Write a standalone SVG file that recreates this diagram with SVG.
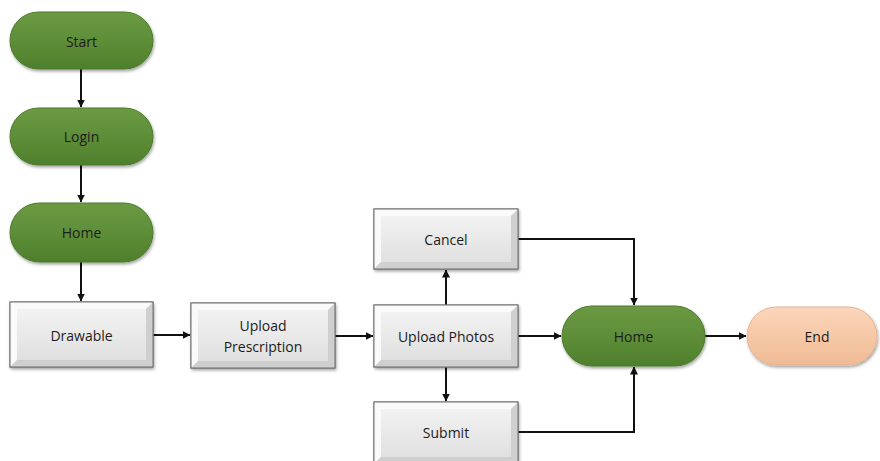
<svg xmlns="http://www.w3.org/2000/svg" width="880" height="461" viewBox="0 0 880 461">
  <defs>
    <linearGradient id="greenFill" x1="0" y1="0" x2="0" y2="1">
      <stop offset="0" stop-color="#6b9a44"/>
      <stop offset="0.5" stop-color="#5e8e38"/>
      <stop offset="1" stop-color="#4f7f2c"/>
    </linearGradient>
    <linearGradient id="peachFill" x1="0" y1="0" x2="0" y2="1">
      <stop offset="0" stop-color="#fbd6bb"/>
      <stop offset="0.5" stop-color="#f6c8a6"/>
      <stop offset="1" stop-color="#efbb96"/>
    </linearGradient>
    <linearGradient id="boxFill" x1="0" y1="0" x2="0" y2="1">
      <stop offset="0" stop-color="#f2f2f2"/>
      <stop offset="1" stop-color="#e0e0e0"/>
    </linearGradient>
    <filter id="shadow" x="-10%" y="-20%" width="120%" height="150%">
      <feDropShadow dx="1" dy="2" stdDeviation="1.6" flood-color="#000" flood-opacity="0.35"/>
    </filter>
    <marker id="arrow" viewBox="0 0 8 8" refX="7.5" refY="4" markerWidth="4" markerHeight="4" orient="auto" markerUnits="strokeWidth">
      <path d="M0,0 L8,4 L0,8 Z" fill="#111"/>
    </marker>
  </defs>
  <style>
    .pill { fill: url(#greenFill); stroke: #4c7a2b; stroke-width: 1; filter: url(#shadow); }
    .endpill { fill: url(#peachFill); stroke: #e8b48e; stroke-width: 1; filter: url(#shadow); }
    .box { fill: url(#boxFill); stroke: #6f6f6f; stroke-width: 1; filter: url(#shadow); }
    .bevel { fill: #fafafa; }
    .bevelDark { fill: #cfcfcf; }
    .label { font-family: "Open Sans", "Liberation Sans", sans-serif; font-size: 14px; fill: #1c1c1c; text-anchor: middle; dominant-baseline: central; }
    .wire { fill: none; stroke: #111; stroke-width: 2; marker-end: url(#arrow); }
  </style>

  <rect width="880" height="461" fill="#ffffff"/>

  <!-- connectors -->
  <g id="connectors">
    <path class="wire" d="M81,69 V107"/>
    <path class="wire" d="M81,165 V202"/>
    <path class="wire" d="M81,262 V301"/>
    <path class="wire" d="M153,335 H190"/>
    <path class="wire" d="M335,336 H373"/>
    <path class="wire" d="M446,305 V270"/>
    <path class="wire" d="M446,367 V401"/>
    <path class="wire" d="M518,336 H561"/>
    <path class="wire" d="M518,239 H634 V305"/>
    <path class="wire" d="M518,432 H634 V367"/>
    <path class="wire" d="M705,336 H746"/>
  </g>

  <!-- terminals -->
  <g id="start">
    <rect class="pill" x="10" y="12" width="143" height="57" rx="28.5"/>
    <text class="label" x="81.5" y="41">Start</text>
  </g>
  <g id="login">
    <rect class="pill" x="10" y="108" width="143" height="57" rx="28.5"/>
    <text class="label" x="81.5" y="136">Login</text>
  </g>
  <g id="home-top">
    <rect class="pill" x="10" y="203" width="143" height="59" rx="29.5"/>
    <text class="label" x="81.5" y="232">Home</text>
  </g>

  <!-- process boxes -->
  <g id="drawable">
    <rect class="box" x="10" y="302" width="143" height="65"/>
    <path class="bevel" d="M10,302 H153 L146,309 H17 V360 L10,367 Z"/>
    <path class="bevelDark" d="M153,302 V367 H10 L17,360 H146 V309 Z"/>
    <rect x="17" y="309" width="129" height="51" fill="url(#boxFill)"/>
    <rect x="10" y="302" width="143" height="65" fill="none" stroke="#6f6f6f"/>
    <text class="label" x="81.5" y="335">Drawable</text>
  </g>
  <g id="upload-prescription">
    <rect class="box" x="191" y="303" width="144" height="65"/>
    <path class="bevel" d="M191,303 H335 L328,310 H198 V361 L191,368 Z"/>
    <path class="bevelDark" d="M335,303 V368 H191 L198,361 H328 V310 Z"/>
    <rect x="198" y="310" width="130" height="51" fill="url(#boxFill)"/>
    <rect x="191" y="303" width="144" height="65" fill="none" stroke="#6f6f6f"/>
    <text class="label" x="263" y="325">Upload</text>
    <text class="label" x="263" y="346">Prescription</text>
  </g>
  <g id="cancel">
    <rect class="box" x="374" y="209" width="144" height="60"/>
    <path class="bevel" d="M374,209 H518 L511,216 H381 V262 L374,269 Z"/>
    <path class="bevelDark" d="M518,209 V269 H374 L381,262 H511 V216 Z"/>
    <rect x="381" y="216" width="130" height="46" fill="url(#boxFill)"/>
    <rect x="374" y="209" width="144" height="60" fill="none" stroke="#6f6f6f"/>
    <text class="label" x="446" y="239">Cancel</text>
  </g>
  <g id="upload-photos">
    <rect class="box" x="374" y="305" width="144" height="62"/>
    <path class="bevel" d="M374,305 H518 L511,312 H381 V360 L374,367 Z"/>
    <path class="bevelDark" d="M518,305 V367 H374 L381,360 H511 V312 Z"/>
    <rect x="381" y="312" width="130" height="48" fill="url(#boxFill)"/>
    <rect x="374" y="305" width="144" height="62" fill="none" stroke="#6f6f6f"/>
    <text class="label" x="446" y="336">Upload Photos</text>
  </g>
  <g id="submit">
    <rect class="box" x="374" y="402" width="144" height="62"/>
    <path class="bevel" d="M374,402 H518 L511,409 H381 V457 L374,464 Z"/>
    <path class="bevelDark" d="M518,402 V464 H374 L381,457 H511 V409 Z"/>
    <rect x="381" y="409" width="130" height="48" fill="url(#boxFill)"/>
    <rect x="374" y="402" width="144" height="62" fill="none" stroke="#6f6f6f"/>
    <text class="label" x="446" y="432">Submit</text>
  </g>

  <g id="home-main">
    <rect class="pill" x="562" y="306" width="143" height="60" rx="30"/>
    <text class="label" x="633.5" y="336">Home</text>
  </g>
  <g id="end">
    <rect class="endpill" x="747" y="307" width="130" height="58" rx="29"/>
    <text class="label" x="817" y="336">End</text>
  </g>
</svg>
